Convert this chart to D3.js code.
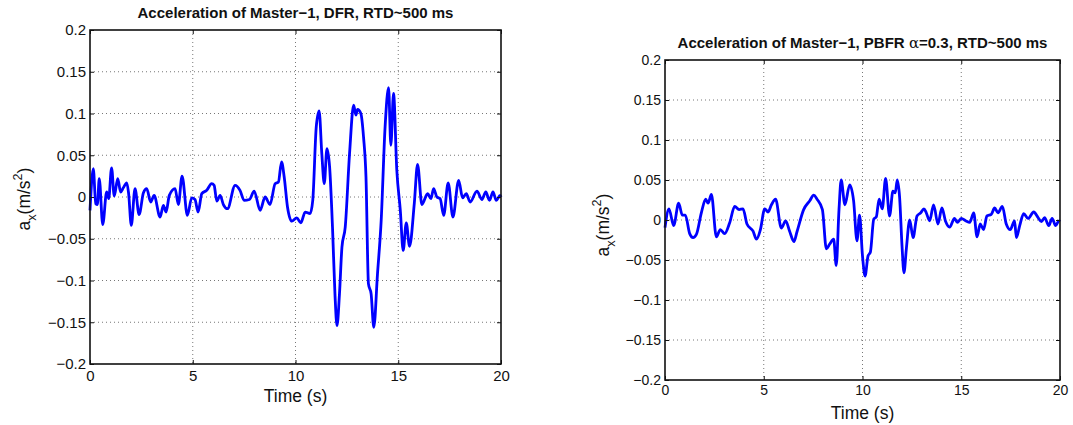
<!DOCTYPE html>
<html>
<head>
<meta charset="utf-8">
<script src="https://cdn.jsdelivr.net/npm/d3@7"></script>
<style>
  html, body { margin: 0; padding: 0; background: #fff; }
  svg { display: block; font-family: "Liberation Sans", Arial, Helvetica, sans-serif; }
</style>
</head>
<body>
<svg id="chart" width="1073" height="425"></svg>
<script>
// --- data ---
const xTicks = [0, 5, 10, 15, 20];
const yTicks = [-0.2, -0.15, -0.1, -0.05, 0, 0.05, 0.1, 0.15, 0.2];

// DFR (left panel)
const dfrTime = [0, 0.16, 0.28, 0.36, 0.45, 0.62, 0.81, 0.91, 1.05, 1.18, 1.35, 1.49, 1.62, 1.79, 1.88,
  2.01, 2.19, 2.39, 2.6, 2.76, 2.95, 3.12, 3.41, 3.57, 3.7, 3.86, 4.14, 4.3, 4.48, 4.74, 4.95, 5.11,
  5.26, 5.44, 5.68, 5.92, 6.04, 6.17, 6.33, 6.49, 6.69, 7.06, 7.3, 7.5, 7.76, 7.99, 8.28, 8.52, 8.76,
  9.01, 9.17, 9.32, 9.45, 9.61, 9.82, 10.06, 10.26, 10.47, 10.71, 10.84, 11.01, 11.15, 11.28, 11.4,
  11.53, 11.66, 11.8, 11.92, 12.02, 12.14, 12.26, 12.42, 12.63, 12.83, 12.94, 13.02, 13.18, 13.31,
  13.43, 13.55, 13.68, 13.81, 13.99, 14.17, 14.36, 14.53, 14.64, 14.77, 14.93, 15.1, 15.24, 15.39,
  15.55, 15.78, 15.94, 16.15, 16.43, 16.59, 16.72, 16.88, 17.04, 17.21, 17.43, 17.66, 17.94, 18.13,
  18.31, 18.5, 18.83, 19.07, 19.26, 19.44, 19.61, 19.77, 19.96, 20];
const dfrAccel = [-0.016, 0.034, -0.008, -0.009, 0.022, -0.033, 0.006, -0.002, 0.035, 0.001, 0.022,
  0.006, 0.011, 0.017, 0.004, -0.034, 0.01, -0.021, 0.005, 0.01, -0.006, 0.002, -0.024, -0.01, -0.018,
  0.002, 0.01, -0.009, 0.025, -0.022, -0.001, -0.003, -0.018, 0.004, 0.008, 0.016, 0.014, -0.005,
  0.002, -0.009, -0.014, 0.014, 0.008, -0.004, -0.003, 0.007, -0.016, 0, -0.009, 0.016, 0.018, 0.042,
  0.024, -0.012, -0.029, -0.025, -0.031, -0.018, -0.02, -0.004, 0.084, 0.103, 0.052, 0.016, 0.058,
  0.036, -0.036, -0.116, -0.154, -0.116, -0.06, -0.036, 0.052, 0.11, 0.098, 0.105, 0.1, 0.072, 0.024,
  -0.104, -0.116, -0.156, -0.092, -0.028, 0.084, 0.131, 0.062, 0.124, 0.032, -0.016, -0.064, -0.031,
  -0.059, -0.008, 0.039, -0.009, 0.004, -0.002, 0.01, 0, -0.002, -0.022, 0.017, -0.024, 0.02, -0.001,
  0.004, -0.006, 0.007, -0.003, 0.006, -0.004, 0.006, -0.004, 0.002, 0];

// PBFR alpha=0.3 (right panel)
const pbfrTime = [0, 0.2, 0.44, 0.69, 0.88, 1.03, 1.25, 1.42, 1.59, 1.84, 2.06, 2.18, 2.35, 2.6, 2.8,
  3.02, 3.28, 3.53, 3.75, 3.95, 4.15, 4.46, 4.63, 4.83, 5.05, 5.22, 5.39, 5.6, 5.89, 6.11, 6.31, 6.53,
  6.68, 7.02, 7.33, 7.53, 7.7, 7.97, 8.17, 8.34, 8.54, 8.67, 8.81, 8.92, 9.11, 9.35, 9.55, 9.72, 9.85,
  10.0, 10.13, 10.28, 10.4, 10.57, 10.7, 10.84, 11.0, 11.17, 11.37, 11.54, 11.66, 11.76, 11.88, 12.0,
  12.1, 12.22, 12.39, 12.56, 12.76, 12.95, 13.11, 13.23, 13.4, 13.6, 13.82, 14.02, 14.21, 14.41, 14.66,
  14.8, 15.0, 15.22, 15.43, 15.63, 15.8, 15.96, 16.13, 16.3, 16.52, 16.69, 16.86, 17.08, 17.28, 17.48,
  17.7, 17.79, 17.96, 18.16, 18.38, 18.67, 18.89, 19.06, 19.22, 19.43, 19.6, 19.78, 19.95, 20];
const pbfrAccel = [-0.0095, 0.014, -0.007, 0.021, 0.006, 0.006, -0.017, -0.022, -0.018, 0.009, 0.026,
  0.021, 0.032, -0.021, -0.012, -0.017, -0.003, 0.017, 0.013, 0.014, -0.005, -0.014, -0.024, -0.012,
  0.014, 0.01, 0.019, 0.026, -0.01, -0.001, -0.014, -0.027, -0.015, 0.013, 0.024, 0.031, 0.026, 0.013,
  -0.036, -0.03, -0.024, -0.057, 0.013, 0.05, 0.019, 0.044, 0.024, -0.026, 0.006, -0.045, -0.07,
  -0.045, -0.04, 0.001, 0.004, 0.026, 0.014, 0.052, 0.005, 0.036, 0.034, 0.05, 0.028, -0.032, -0.066,
  -0.036, 0, -0.022, 0.005, 0.009, 0.014, 0.009, -0.001, 0.019, -0.005, 0.015, -0.002, -0.009, 0.002,
  -0.003, 0.002, -0.001, -0.003, 0.009, -0.021, -0.005, -0.012, 0.005, 0.007, 0.015, 0.009, 0.017,
  -0.005, -0.012, -0.001, -0.022, -0.007, 0.008, 0.002, 0.01, 0.003, -0.002, 0.003, -0.007, 0.002,
  -0.007, -0.001, -0.002];

const svg = d3.select("#chart");
const fmt = (d) => (d < 0 ? "\u2212" : "") + String(Math.abs(d));

// draws one MATLAB-style panel
function drawPanel(cfg) {
  const x = d3.scaleLinear().domain([0, 20]).range([cfg.left, cfg.right]);
  const y = d3.scaleLinear().domain([-0.2, 0.2]).range([cfg.bottom, cfg.top]);
  const g = svg.append("g");

  // dotted grid
  g.append("g").selectAll("line").data(xTicks.slice(1, -1)).join("line")
    .attr("x1", (d) => x(d)).attr("x2", (d) => x(d))
    .attr("y1", cfg.top).attr("y2", cfg.bottom)
    .attr("stroke", "#777").attr("stroke-width", 1).attr("stroke-dasharray", "1,3");
  g.append("g").selectAll("line").data(yTicks.slice(1, -1)).join("line")
    .attr("y1", (d) => y(d)).attr("y2", (d) => y(d))
    .attr("x1", cfg.left).attr("x2", cfg.right)
    .attr("stroke", "#777").attr("stroke-width", 1).attr("stroke-dasharray", "1,3");

  // the curve
  const pts = cfg.time.map((t, i) => [t, cfg.values[i]]);
  g.append("path")
    .datum(pts)
    .attr("fill", "none")
    .attr("stroke", "#0000ff")
    .attr("stroke-width", 2.8)
    .attr("stroke-linejoin", "round")
    .attr("d", d3.line().x((d) => x(d[0])).y((d) => y(d[1])).curve(d3.curveMonotoneX));

  // axes: labels on bottom / left, inward ticks on all four sides
  const tl = 4;
  g.append("g").attr("transform", `translate(0,${cfg.bottom})`)
    .call(d3.axisBottom(x).tickValues(xTicks).tickFormat(fmt).tickSizeInner(-tl).tickSizeOuter(0).tickPadding(cfg.xPad))
    .call((s) => s.selectAll("text").attr("font-size", cfg.tickFont).attr("fill", "#111").attr("font-family", "Liberation Sans, Arial, sans-serif"));
  g.append("g").attr("transform", `translate(${cfg.left},0)`)
    .call(d3.axisLeft(y).tickValues(yTicks).tickFormat(fmt).tickSizeInner(-tl).tickSizeOuter(0).tickPadding(cfg.yPad))
    .call((s) => s.selectAll("text").attr("font-size", cfg.tickFont).attr("fill", "#111").attr("font-family", "Liberation Sans, Arial, sans-serif"));
  g.append("g").attr("transform", `translate(0,${cfg.top})`)
    .call(d3.axisTop(x).tickValues(xTicks).tickFormat("").tickSizeInner(-tl).tickSizeOuter(0));
  g.append("g").attr("transform", `translate(${cfg.right},0)`)
    .call(d3.axisRight(y).tickValues(yTicks).tickFormat("").tickSizeInner(-tl).tickSizeOuter(0));
  g.selectAll(".domain").remove();
  g.selectAll(".tick line").attr("stroke", "#111");

  // box
  g.append("rect")
    .attr("x", cfg.left).attr("y", cfg.top)
    .attr("width", cfg.right - cfg.left).attr("height", cfg.bottom - cfg.top)
    .attr("fill", "none").attr("stroke", "#111").attr("stroke-width", 1.6);

  // title
  const title = g.append("text")
    .attr("x", (cfg.left + cfg.right) / 2).attr("y", cfg.titleY)
    .attr("text-anchor", "middle").attr("font-weight", "bold")
    .attr("font-size", cfg.titleFont).attr("fill", "#111");
  cfg.title.forEach((part) => {
    const ts = title.append("tspan").text(part.text);
    if (part.greek) ts.attr("font-weight", "normal").attr("font-family", "DejaVu Serif, serif");
  });

  // x label
  g.append("text")
    .attr("x", (cfg.left + cfg.right) / 2).attr("y", cfg.xLabelY)
    .attr("text-anchor", "middle").attr("font-size", cfg.labelFont).attr("fill", "#111")
    .text("Time (s)");

  // y label: a_x (m/s^2)
  const yl = g.append("text")
    .attr("transform", `translate(${cfg.yLabelX},${cfg.yLabelY}) rotate(-90)`)
    .attr("text-anchor", "middle").attr("font-size", cfg.labelFont).attr("fill", "#111");
  yl.append("tspan").text("a");
  yl.append("tspan").attr("font-size", cfg.labelFont * 0.72).attr("dy", 6).text("x");
  yl.append("tspan").attr("dy", -6).text("(m/s");
  yl.append("tspan").attr("font-size", cfg.labelFont * 0.72).attr("dy", -8).text("2");
  yl.append("tspan").attr("dy", 8).text(")");
}

drawPanel({
  left: 90, right: 501, top: 30, bottom: 364,
  time: dfrTime, values: dfrAccel,
  title: [{ text: "Acceleration of Master\u22121, DFR, RTD~500 ms" }],
  titleY: 18, titleFont: 15,
  tickFont: 15, xPad: 6, yPad: 4,
  xLabelY: 402, labelFont: 17.5, yLabelX: 30, yLabelY: 199
});

drawPanel({
  left: 665, right: 1060, top: 60, bottom: 380,
  time: pbfrTime, values: pbfrAccel,
  title: [{ text: "Acceleration of Master\u22121, PBFR " }, { text: "\u03b1", greek: true }, { text: "=0.3, RTD~500 ms" }],
  titleY: 48, titleFont: 15,
  tickFont: 14, xPad: 5, yPad: 4,
  xLabelY: 419, labelFont: 17.5, yLabelX: 609, yLabelY: 225
});
</script>
</body>
</html>
